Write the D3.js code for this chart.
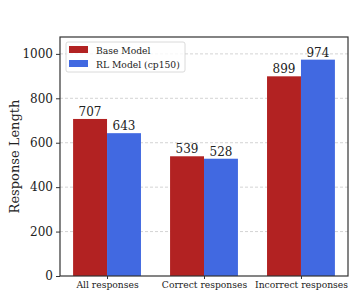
<!DOCTYPE html>
<html>
<head>
<meta charset="utf-8">
<script src="https://d3js.org/d3.v7.min.js"></script>
<style>
  body { margin: 0; background: #fff; }
  text { font-family: "DejaVu Serif", serif; fill: #222; }
</style>
</head>
<body>
<svg width="350" height="291"></svg>
<script>
var categories = ["All responses", "Correct responses", "Incorrect responses"];
var series = ["Base Model", "RL Model (cp150)"];
var baseValues = [707, 539, 899];
var rlValues = [643, 528, 974];
var yTicks = [0, 200, 400, 600, 800, 1000];
var colors = ["#b22222", "#4169e1"];

var svg = d3.select("svg"),
  margin = {top: 37, right: 2, bottom: 15, left: 60},
  width = 350 - margin.left - margin.right,
  height = 291 - margin.top - margin.bottom,
  g = svg.append("g").attr("transform", "translate(" + margin.left + "," + margin.top + ")");

var barW = 0.35;
// posições numéricas como no matplotlib
var x = d3.scaleLinear().domain([-0.485, 2.485]).range([0, width]);
var y = d3.scaleLinear().domain([0, 1076]).range([height, 0]);

// grade
g.append("g").selectAll("line").data(yTicks.slice(1)).enter().append("line")
  .attr("x1", 0).attr("x2", width)
  .attr("y1", d => y(d)).attr("y2", d => y(d))
  .attr("stroke", "#c8c8c8").attr("stroke-width", 0.8)
  .attr("stroke-dasharray", "3,2");

var data = [];
categories.forEach(function(c, i) {
  data.push({cat: i, s: 0, v: baseValues[i]});
  data.push({cat: i, s: 1, v: rlValues[i]});
});

g.selectAll("rect.bar").data(data).enter().append("rect")
  .attr("class", "bar")
  .attr("x", d => x(d.cat + (d.s - 1) * barW))
  .attr("width", x(barW) - x(0))
  .attr("y", d => y(d.v))
  .attr("height", d => height - y(d.v))
  .attr("fill", d => colors[d.s]);

g.selectAll("text.val").data(data).enter().append("text")
  .attr("class", "val")
  .attr("x", d => x(d.cat + (d.s - 0.5) * barW))
  .attr("y", d => y(d.v) - 3)
  .attr("text-anchor", "middle")
  .style("font-size", "12px")
  .text(d => d.v);

// eixos
var yAxis = g.append("g").call(d3.axisLeft(y).tickValues(yTicks).tickFormat(d3.format("d")).tickSize(4).tickPadding(3));
yAxis.select(".domain").remove();
yAxis.selectAll("text").style("font-size", "12px").style("font-family", "DejaVu Serif");
yAxis.selectAll("line").attr("stroke", "#333");

var xAxis = g.append("g").attr("transform", "translate(0," + height + ")")
  .call(d3.axisBottom(x).tickValues([0, 1, 2]).tickFormat(i => categories[i]).tickSize(3).tickPadding(2));
xAxis.select(".domain").remove();
xAxis.selectAll("text").style("font-size", "9.2px").style("font-family", "DejaVu Serif");
xAxis.selectAll("line").attr("stroke", "#333");

// moldura
g.append("rect").attr("x", 0).attr("y", 0).attr("width", width).attr("height", height)
  .attr("fill", "none").attr("stroke", "#333").attr("stroke-width", 1.2);

// rótulo y
svg.append("text")
  .attr("transform", "translate(18.5," + (margin.top + height / 2) + ") rotate(-90)")
  .attr("text-anchor", "middle")
  .style("font-size", "13px")
  .text("Response Length");

// legenda
var leg = g.append("g").attr("transform", "translate(6,5)");
leg.append("rect").attr("width", 119).attr("height", 30).attr("rx", 2)
  .attr("fill", "#fff").attr("fill-opacity", 0.8)
  .attr("stroke", "#d0d0d0").attr("stroke-width", 0.8);
series.forEach(function(s, i) {
  leg.append("rect").attr("x", 3).attr("y", 4 + i * 14).attr("width", 19).attr("height", 7).attr("fill", colors[i]);
  leg.append("text").attr("x", 30).attr("y", 11.5 + i * 14)
    .style("font-size", "9.2px").text(s);
});
</script>
</body>
</html>
